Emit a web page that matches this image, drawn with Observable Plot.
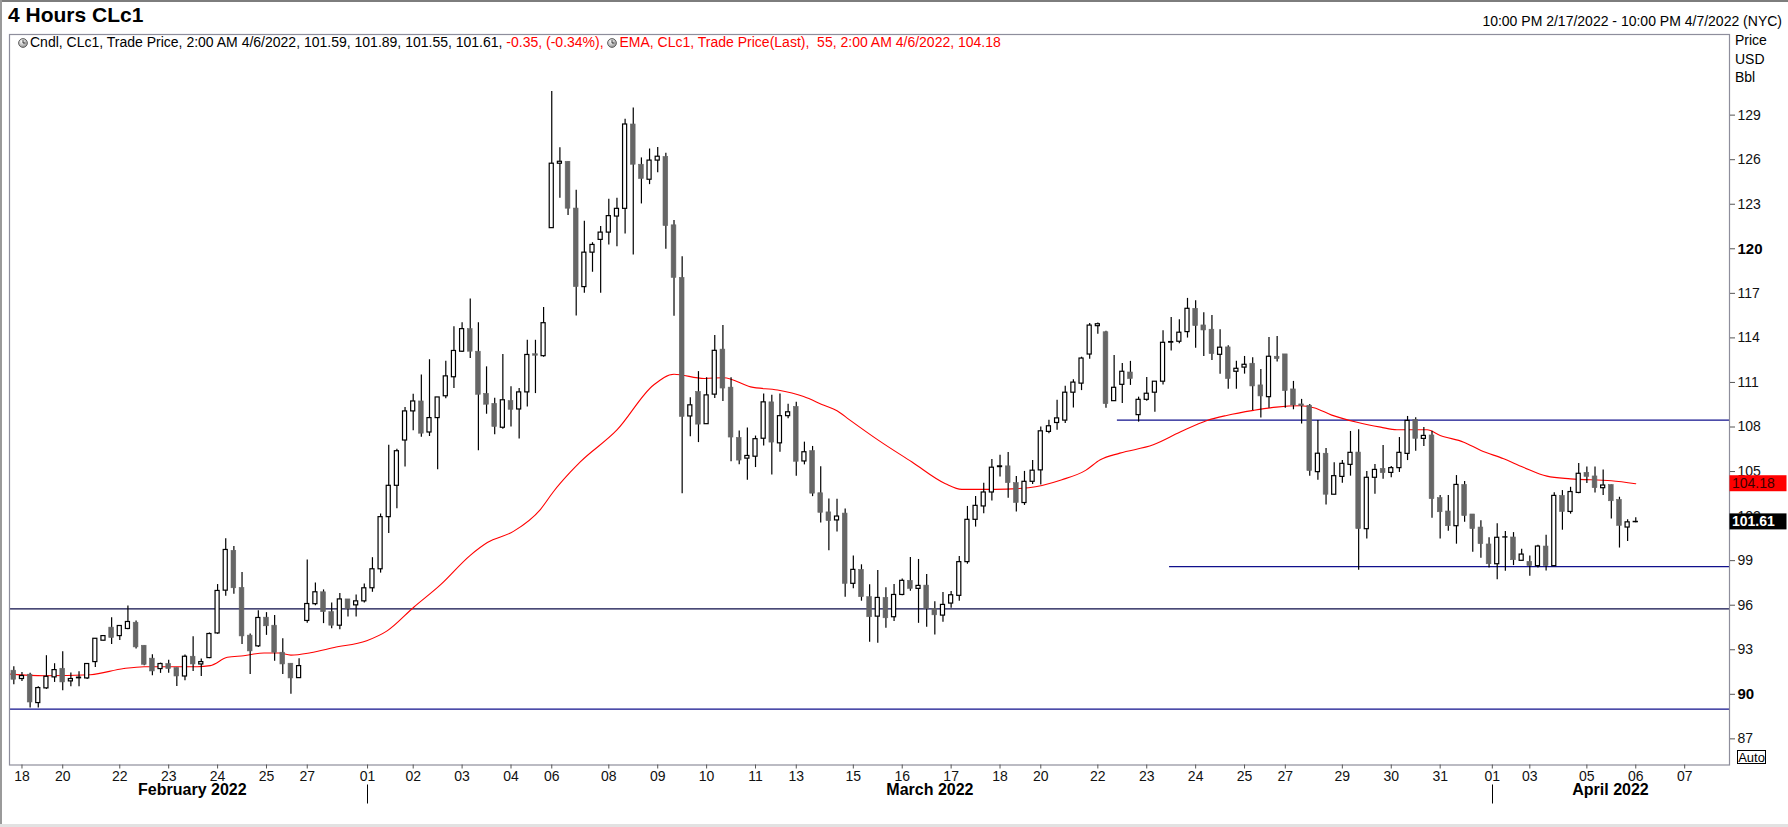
<!DOCTYPE html>
<html><head><meta charset="utf-8">
<script src="https://cdn.jsdelivr.net/npm/d3@7"></script>
<script src="https://cdn.jsdelivr.net/npm/@observablehq/plot@0.6"></script>
<style>
html,body{margin:0;padding:0;background:#fff;}
body{width:1788px;height:827px;overflow:hidden;position:relative;font-family:"Liberation Sans",Arial,sans-serif;color:#000;}
.bd{position:absolute;}
#title{position:absolute;left:8px;top:3px;font-size:21px;font-weight:bold;line-height:24px;}
#range{position:absolute;right:6px;top:13px;font-size:14px;line-height:16px;}
#chart{position:absolute;left:0;top:33px;}
#legend{position:absolute;left:18px;top:34px;font-size:14px;line-height:16px;white-space:pre;}
#legend .r{color:#ff0000;}
#legend svg{vertical-align:-1px;margin-right:2px;}
#unit{position:absolute;left:1735px;top:31px;font-size:14px;line-height:18.5px;}
#auto{position:absolute;left:1737px;top:750px;width:29px;height:14px;border:1px solid #000;font-size:13px;line-height:14px;text-align:center;box-sizing:border-box;}
</style></head>
<body>
<div class="bd" style="left:0;top:0;width:1788px;height:2px;background:#7d7d7d"></div>
<div class="bd" style="left:0;top:0;width:2px;height:827px;background:#9a9a9a"></div>
<div class="bd" style="left:0;top:824px;width:1788px;height:3px;background:#e2e2e2"></div>
<div id="title">4 Hours CLc1</div>
<div id="range">10:00 PM 2/17/2022 - 10:00 PM 4/7/2022 (NYC)</div>
<div id="chart"></div>
<div id="legend"></div>
<div id="unit">Price<br>USD<br>Bbl</div>
<div id="auto">Auto</div>
<script>
// ---------- data ----------
const opens = [
91.59,91.03,91.32,89.41,90.40,91.14,91.72,90.87,91.08,91.07,
92.17,93.61,94.49,93.92,94.40,94.82,93.27,92.40,91.70,92.04,
91.77,91.20,92.53,92.01,92.44,94.10,96.98,99.66,97.16,93.95,
93.23,95.16,94.62,92.80,92.06,91.09,94.94,96.07,96.87,95.53,
94.62,96.39,95.99,96.26,97.14,98.42,101.93,104.04,107.09,109.05,
109.72,107.63,108.60,110.07,111.35,113.07,114.59,113.07,110.23,109.56,
107.95,109.74,109.18,110.33,112.90,112.77,121.39,125.73,125.86,122.71,
117.42,119.74,120.60,121.09,122.17,122.69,128.37,125.66,124.65,125.94,
126.18,121.58,118.04,108.71,110.36,108.19,110.18,113.21,110.65,107.26,
105.87,106.00,107.21,109.66,106.90,108.73,109.35,105.68,106.38,103.54,
102.25,101.71,102.17,97.44,98.38,96.54,95.23,96.49,95.19,96.69,
97.64,97.10,97.32,95.75,95.30,96.11,96.63,98.90,101.75,102.65,
103.59,105.30,105.35,104.22,102.88,104.31,105.08,107.67,108.27,108.43,
110.31,110.92,112.88,114.79,114.38,109.74,110.84,111.67,108.80,109.83,
110.31,111.05,113.68,113.74,114.39,115.96,114.84,114.55,112.86,113.36,
111.72,112.00,112.26,110.80,110.01,112.73,112.89,110.53,109.52,109.43,
104.96,106.20,103.44,104.64,105.45,106.28,101.12,104.58,105.18,104.91,
105.23,106.19,108.48,107.20,107.43,103.21,102.31,101.32,104.10,102.11,
101.23,100.09,98.76,100.56,100.56,98.99,98.92,98.63,99.95,98.63,
103.36,102.28,103.56,104.91,104.67,103.88,104.09,103.09,101.23,101.59];
const highs = [
91.86,91.47,91.41,90.51,92.60,92.06,92.87,91.43,91.52,92.08,
93.75,93.93,95.16,94.60,95.95,94.93,93.27,92.67,92.10,92.30,
91.77,92.64,93.88,92.37,94.13,97.39,100.47,99.95,98.20,94.06,
95.63,95.50,95.30,93.74,92.06,92.39,99.05,97.49,97.03,96.15,
96.79,96.39,96.68,97.43,99.20,102.14,106.77,106.51,109.32,110.20,
111.51,112.53,109.99,112.42,114.75,115.02,116.62,115.02,112.05,109.93,
112.88,110.71,110.60,113.84,113.84,116.04,130.60,126.80,125.86,123.95,
121.86,120.41,121.50,123.33,123.41,128.73,129.48,126.12,126.72,126.82,
126.44,121.91,119.46,109.97,111.73,111.32,114.16,114.83,111.32,107.73,
107.93,107.39,110.23,110.13,110.23,109.54,109.66,106.98,106.69,105.32,
103.15,103.13,102.48,99.32,98.72,97.37,98.33,97.17,97.39,97.77,
99.21,99.08,98.07,96.24,96.85,96.92,99.28,102.65,103.32,104.22,
105.82,106.09,106.29,104.67,105.01,105.75,108.00,108.45,109.80,110.74,
111.19,112.70,114.97,115.01,114.45,112.82,112.28,112.42,110.01,111.34,
111.05,114.48,115.38,115.22,116.66,116.50,115.69,115.51,114.55,113.47,
112.42,112.75,112.66,111.88,114.03,114.10,112.89,111.07,109.86,109.52,
108.44,106.56,105.59,105.74,107.70,107.81,105.00,105.47,106.75,105.34,
107.29,108.71,108.62,107.96,107.72,103.39,103.39,104.73,104.33,102.11,
101.68,100.54,101.48,100.96,100.89,99.77,99.32,100.04,100.71,103.57,
103.72,103.94,105.55,105.31,105.31,105.11,104.09,103.27,101.75,101.89];
const lows = [
90.64,90.87,89.07,89.07,90.33,90.80,90.24,90.51,90.51,91.00,
91.81,93.60,93.36,93.63,94.35,93.05,91.92,91.25,91.41,91.41,
90.53,90.91,91.54,91.20,92.40,94.04,96.60,96.73,93.36,91.34,
93.16,93.97,92.22,91.34,90.01,91.09,94.78,95.96,94.76,94.41,
94.35,95.21,95.21,96.15,96.87,98.16,100.83,102.49,105.30,107.74,
107.31,107.36,105.12,109.91,110.60,113.01,112.61,106.40,108.86,107.47,
107.85,108.00,107.20,109.34,110.25,112.69,121.39,123.40,122.25,115.48,
117.00,118.42,117.00,120.26,120.13,121.00,119.59,123.02,124.32,125.12,
119.97,115.45,103.51,107.34,106.95,108.19,109.92,109.72,105.66,105.45,
104.42,105.27,106.72,104.76,106.30,108.55,104.68,105.45,103.31,101.53,
99.67,100.93,96.54,97.10,96.27,93.50,93.43,94.45,94.90,96.63,
96.94,94.78,94.51,93.99,94.85,95.80,96.27,98.76,101.26,102.16,
103.01,104.63,103.21,102.27,102.72,104.13,104.09,107.55,107.78,108.23,
109.28,110.45,112.56,114.25,109.27,109.74,109.59,110.80,108.33,109.74,
109.00,110.82,113.11,113.60,113.99,113.31,112.75,112.48,111.56,110.55,
110.55,111.56,109.11,108.60,109.27,112.37,109.27,109.16,108.20,104.69,
104.42,102.74,103.44,104.22,104.69,98.36,100.45,103.48,104.49,104.58,
104.94,105.74,106.37,106.69,101.86,100.45,100.98,100.11,101.59,99.57,
99.17,98.51,97.71,98.29,98.67,98.99,97.95,98.51,98.31,98.63,
101.05,102.13,103.50,104.20,103.56,103.39,101.81,99.85,100.29,101.55];
const closes = [
90.98,91.23,89.45,90.42,91.18,91.63,90.80,91.03,91.12,92.04,
93.74,93.92,93.79,94.60,94.87,93.16,91.99,91.54,92.04,91.70,
91.20,92.53,92.01,92.17,94.06,96.96,99.72,97.14,93.90,92.89,
95.14,94.58,92.80,92.01,91.07,91.90,96.08,96.87,95.53,94.62,
96.39,95.75,96.26,97.14,98.42,101.93,104.04,106.37,109.05,109.72,
107.55,108.60,109.99,111.41,113.12,114.59,113.07,110.17,109.50,108.00,
109.80,109.16,110.33,112.85,112.80,114.99,125.73,125.86,122.70,117.42,
119.74,120.26,121.09,122.20,122.69,128.37,125.66,124.70,125.94,126.20,
121.53,118.04,108.68,109.46,108.16,110.13,113.13,110.59,107.29,105.74,
106.05,107.18,109.66,106.95,108.73,108.99,105.66,106.30,103.51,102.22,
101.66,101.97,97.44,98.38,96.54,95.19,96.49,95.12,96.69,97.64,
97.10,97.30,95.75,95.32,96.02,96.67,98.90,101.75,102.69,103.59,
105.26,105.35,104.22,102.88,104.31,105.06,107.71,108.05,108.58,110.31,
110.99,112.61,114.83,114.92,109.54,110.64,111.72,111.23,109.83,110.24,
111.05,113.67,113.72,114.35,115.96,114.79,114.50,112.91,113.34,111.23,
111.92,112.19,110.73,110.06,112.73,112.57,110.42,109.45,109.41,105.03,
106.20,103.44,104.69,105.52,106.26,101.12,104.58,105.11,104.89,105.23,
106.26,108.41,107.20,107.40,103.14,102.26,101.32,104.10,102.00,101.12,
100.11,98.76,100.54,100.57,99.03,99.41,98.63,99.95,98.63,103.36,
102.28,103.62,104.85,104.64,103.88,104.06,103.00,101.34,101.58,101.61];

// EMA(55): bar position, value
const emaPos = [-0.4,3.7,9.4,13.5,16,22.5,24.1,26.2,28.2,30.7,32.5,34,36.4,39.3,43.3,45.8,49.1,52.3,56,58.1,61.3,64.6,66.2,68.3,69.5,74,78.5,81,84.7,87.1,90.4,93.7,96.9,99.4,101,102.5,106.1,110.2,114.3,116.3,120.4,124.5,128.6,131.5,133.3,135.7,139.8,143.1,146.4,148.8,152.1,154.9,157.8,159.5,161.7,164.8,167.7,169.7,173.4,175,177.9,180,182.8,185.2,188.1,191,196,199];
const emaVal = [91.36,91.25,91.32,91.74,91.86,91.86,91.93,92.49,92.6,92.78,92.78,92.64,92.8,93.15,93.61,94.27,95.88,97.35,99.36,100.22,100.97,102.44,103.64,104.97,105.65,107.8,110.83,111.55,111.27,111.32,110.7,110.49,110.05,109.46,109.1,108.5,107.1,105.64,104.18,103.8,103.8,103.91,104.45,105.08,105.79,106.24,106.8,107.66,108.44,108.78,109.12,109.34,109.43,109.3,108.8,108.32,107.99,107.81,107.81,107.43,106.98,106.42,105.86,105.29,104.69,104.51,104.38,104.18];

// horizontal drawn lines: level, starting bar (null = full width)
const hLevels = [95.75, 89.0, 108.46, 98.6];
const hStart  = [null, null, 135.4, 141.8];
const hColors = ["#0c0c48", "#10108c", "#10108c", "#10108c"];

// axes
const xTickPos = [1,6,13,19,25,31,36,43.4,49,55,61,66,73,79,85,91,96,103,109,115,121,126,133,139,145,151,156,163,169,175,181.4,186,193,199,205];
const xTickLab = ["18","20","22","23","24","25","27","01","02","03","04","06","08","09","10","11","13","15","16","17","18","20","22","23","24","25","27","29","30","31","01","03","05","06","07"];
const monthPos = [21.9, 112.4, 195.9];
const monthLab = ["February 2022", "March 2022", "April 2022"];
const monthDividers = [43.4, 181.4];
const yTicks = [87,93,96,99,102,105,108,111,114,117,123,126,129];
const yTicksBold = [90,120];
const lastClose = 101.61, lastEma = 104.18;

// ---------- build ----------
const bars = opens.map((o, i) => ({i, open: o, high: highs[i], low: lows[i], close: closes[i]}));
const up = bars.filter(d => d.close >= d.open);
const down = bars.filter(d => d.close < d.open);
const ema = emaPos.map((p, k) => ({p, v: emaVal[k]}));
const xDom = [-0.53, 210.5];
const hl = hLevels.map((y, k) => ({y, x1: hStart[k] == null ? xDom[0] : hStart[k], x2: xDom[1], c: hColors[k]}));
const tickLabel = new Map(xTickPos.map((p, k) => [p, xTickLab[k]]));

const svg = Plot.plot({
  width: 1788, height: 794,
  marginTop: 1, marginBottom: 62.5, marginLeft: 9, marginRight: 59,
  style: {fontFamily: '"Liberation Sans", Arial, sans-serif', background: "transparent", overflow: "visible"},
  x: {domain: xDom, axis: null},
  y: {domain: [85.24, 134.43], axis: null},
  marks: [
    ...hl.map(h => Plot.ruleY([h], {y: "y", x1: "x1", x2: "x2", stroke: h.c, strokeWidth: 1.3})),
    Plot.line(ema, {x: "p", y: "v", stroke: "#ff0000", strokeWidth: 1.1, curve: "monotone-x"}),
    Plot.ruleX(bars, {x: "i", y1: "low", y2: "high", stroke: "#000", strokeWidth: 1.2}),
    Plot.rect(down, {x1: d => d.i - 0.29, x2: d => d.i + 0.29, y1: "open", y2: "close", fill: "#666666", stroke: "#666666", strokeWidth: 0.6}),
    Plot.rect(up, {x1: d => d.i - 0.25, x2: d => d.i + 0.25, y1: "open", y2: "close", fill: "#ffffff", stroke: "#000", strokeWidth: 1.2}),
    Plot.frame({stroke: "#8e8e9c", strokeWidth: 1.2}),
    Plot.axisX(xTickPos, {anchor: "bottom", tickSize: 4, tickPadding: 2, fontSize: 14, fill: "#111", stroke: "#555", tickFormat: d => tickLabel.get(d)}),
    Plot.text(monthLab, {x: (d, k) => monthPos[k], text: d => d, frameAnchor: "bottom", dy: 29.5, fontSize: 16, fontWeight: "bold", fill: "#000"}),
    Plot.axisY(yTicks, {anchor: "right", tickSize: 5, tickPadding: 3, fontSize: 14, fill: "#111", stroke: "#555"}),
    Plot.axisY(yTicksBold, {anchor: "right", tickSize: 5, tickPadding: 3, fontSize: 15, fontWeight: "bold", fill: "#000", stroke: "#555"})
  ]
});
document.getElementById("chart").appendChild(svg);

// post: price tags and month dividers positioned through Plot's own scales
const xs = svg.scale("x"), ys = svg.scale("y");
const s = d3.select(svg);
const tags = [{v: lastEma, bg: "#ff0000", fg: "#3a0000", w: "normal"}, {v: lastClose, bg: "#000000", fg: "#ffffff", w: "bold"}];
tags.forEach(t => {
  const y = ys.apply(t.v);
  const g = s.append("g");
  g.append("rect").attr("x", 1729.5).attr("y", y - 8).attr("width", 57).attr("height", 16).attr("fill", t.bg);
  g.append("text").attr("x", 1732).attr("y", y).attr("dy", "0.36em").attr("text-anchor", "start")
    .attr("font-size", 14).attr("font-weight", t.w)
    .attr("fill", t.fg).attr("font-family", '"Liberation Sans", Arial, sans-serif').text(t.v.toFixed(2));
});
const bottom = 794 - 62.5;
monthDividers.forEach(p => {
  const x = Math.round(xs.apply(p)) + 0.5;
  s.append("line").attr("x1", x).attr("x2", x).attr("y1", bottom + 20).attr("y2", bottom + 39).attr("stroke", "#000").attr("stroke-width", 1);
});

// legend line
const icon = '<svg width="10" height="10" viewBox="0 0 10 10"><defs><radialGradient id="g" cx="0.4" cy="0.35" r="0.7"><stop offset="0" stop-color="#fff"/><stop offset="1" stop-color="#8a8a8a"/></radialGradient></defs><circle cx="5" cy="5" r="4.4" fill="url(#g)" stroke="#555" stroke-width="0.9"/><path d="M5 2.2V5H7.4" fill="none" stroke="#222" stroke-width="0.9"/></svg>';
const last = bars[bars.length - 1];
const chg = -0.35, chgPct = -0.34;
document.getElementById("legend").innerHTML =
  icon + "Cndl, CLc1, Trade Price, 2:00 AM 4/6/2022, " + [last.open, last.high, last.low, last.close].map(v => v.toFixed(2)).join(", ") + ", " +
  '<span class="r">' + chg.toFixed(2) + ", (" + chgPct.toFixed(2) + "%), </span>" + icon +
  '<span class="r">EMA, CLc1, Trade Price(Last),  55, 2:00 AM 4/6/2022, ' + lastEma.toFixed(2) + "</span>";
</script>
</body></html>
